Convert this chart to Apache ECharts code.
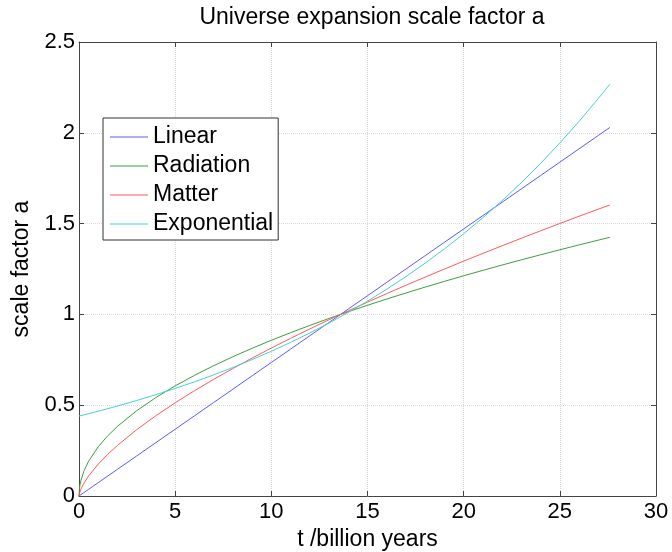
<!DOCTYPE html>
<html>
<head>
<meta charset="utf-8">
<script src="https://cdn.jsdelivr.net/npm/echarts@6/dist/echarts.min.js"></script>
<style>
  html, body { margin: 0; padding: 0; background: #fff; }
  #chart { width: 672px; height: 552px; }
</style>
</head>
<body>
<div id="chart"></div>
<script>
// t / billion years
const years = [0, 0.02, 0.05, 0.1, 0.25, 0.5, 1, 1.5, 2, 3, 4, 5, 6, 7, 8, 9, 10, 11, 12, 13, 14, 15, 16, 17, 18, 19, 20, 21, 22, 23, 24, 25, 26, 27, 27.6];
// scale factor a
const linear = [0, 0.0015, 0.0037, 0.0074, 0.0184, 0.0368, 0.0735, 0.1103, 0.1471, 0.2206, 0.2941, 0.3676, 0.4412, 0.5147, 0.5882, 0.6618, 0.7353, 0.8088, 0.8824, 0.9559, 1.0294, 1.1029, 1.1765, 1.25, 1.3235, 1.3971, 1.4706, 1.5441, 1.6176, 1.6912, 1.7647, 1.8382, 1.9118, 1.9853, 2.0294];
const radiation = [0, 0.0383, 0.0606, 0.0857, 0.1356, 0.1917, 0.2712, 0.3321, 0.3835, 0.4697, 0.5423, 0.6063, 0.6642, 0.7174, 0.767, 0.8135, 0.8575, 0.8993, 0.9393, 0.9777, 1.0146, 1.0502, 1.0847, 1.118, 1.1505, 1.182, 1.2127, 1.2426, 1.2719, 1.3005, 1.3284, 1.3558, 1.3827, 1.409, 1.4246];
const matter = [0, 0.0129, 0.0238, 0.0378, 0.0696, 0.1106, 0.1755, 0.23, 0.2786, 0.3651, 0.4422, 0.5132, 0.5795, 0.6422, 0.702, 0.7594, 0.8147, 0.8681, 0.9199, 0.9704, 1.0195, 1.0675, 1.1144, 1.1604, 1.2055, 1.2497, 1.2932, 1.3359, 1.378, 1.4195, 1.4603, 1.5006, 1.5404, 1.5796, 1.6027];
const exponential = [0.44, 0.4405, 0.4413, 0.4426, 0.4466, 0.4532, 0.4669, 0.481, 0.4955, 0.5258, 0.558, 0.5922, 0.6285, 0.667, 0.7078, 0.7511, 0.7971, 0.8459, 0.8977, 0.9526, 1.011, 1.0729, 1.1386, 1.2083, 1.2823, 1.3608, 1.4441, 1.5325, 1.6263, 1.7259, 1.8316, 1.9437, 2.0627, 2.189, 2.267];

const seriesNames = ["Linear", "Radiation", "Matter", "Exponential"];
const seriesValues = [linear, radiation, matter, exponential];
const seriesColors = ["#5a5aff", "#3d9e3d", "#ff5a5a", "#44d2d2"];

const font = "Liberation Sans, Arial, Helvetica, sans-serif";
const axisColor = "#444";

const chart = echarts.init(document.getElementById("chart"));

let series = seriesNames.map((name, i) => ({
    name: name,
    type: "line",
    showSymbol: false,
    symbol: "none",
    lineStyle: { width: 1, color: seriesColors[i] },
    itemStyle: { color: seriesColors[i] },
    data: years.map((t, k) => [t, seriesValues[i][k]]),
    z: 3,
}));

// 坐标轴外框和刻度（MATLAB 风格）
const baseAxis = {
    axisLine: { show: true, onZero: false, lineStyle: { color: axisColor, width: 1 } },
    axisTick: { show: true, inside: true, length: 5, lineStyle: { color: axisColor } },
};

let option = {
    animation: false,
    backgroundColor: "#fff",
    title: {
        text: "Universe expansion scale factor a",
        left: 367,
        textAlign: "center",
        top: 1,
        textStyle: { fontFamily: font, fontSize: 23, fontWeight: "normal", color: "#000" },
    },
    legend: {
        data: seriesNames,
        orient: "vertical",
        left: 103,
        top: 118,
        icon: "rect",
        itemWidth: 38,
        itemHeight: 1,
        itemGap: 5,
        padding: [7, 5, 4, 7],
        backgroundColor: "#fff",
        borderColor: "#333",
        borderWidth: 1,
        textStyle: { fontFamily: font, fontSize: 23, lineHeight: 24, color: "#000" },
    },
    grid: { left: 79, right: 16, top: 42, bottom: 56, outerBoundsMode: "none" },
    xAxis: [
        Object.assign({}, baseAxis, {
            type: "value",
            min: 0,
            max: 30,
            interval: 5,
            position: "bottom",
            name: "t /billion years",
            nameLocation: "middle",
            nameGap: 28,
            nameTextStyle: { fontFamily: font, fontSize: 23, color: "#000" },
            axisLabel: { fontFamily: font, fontSize: 22, color: "#000", margin: 5 },
            splitLine: { show: true, lineStyle: { color: "#dadada", type: "dotted" } },
        }),
        Object.assign({}, baseAxis, {
            type: "value",
            min: 0,
            max: 30,
            interval: 5,
            position: "top",
            axisLabel: { show: false },
            splitLine: { show: false },
        }),
    ],
    yAxis: [
        Object.assign({}, baseAxis, {
            type: "value",
            min: 0,
            max: 2.5,
            interval: 0.5,
            position: "left",
            name: "scale factor a",
            nameLocation: "middle",
            nameGap: 37,
            nameTextStyle: { fontFamily: font, fontSize: 23, color: "#000" },
            axisLabel: { fontFamily: font, fontSize: 22, color: "#000", margin: 4 },
            splitLine: { show: true, lineStyle: { color: "#dadada", type: "dotted" } },
        }),
        Object.assign({}, baseAxis, {
            type: "value",
            min: 0,
            max: 2.5,
            interval: 0.5,
            position: "right",
            axisLabel: { show: false },
            splitLine: { show: false },
        }),
    ],
    series: series,
};

chart.setOption(option);
</script>
</body>
</html>
